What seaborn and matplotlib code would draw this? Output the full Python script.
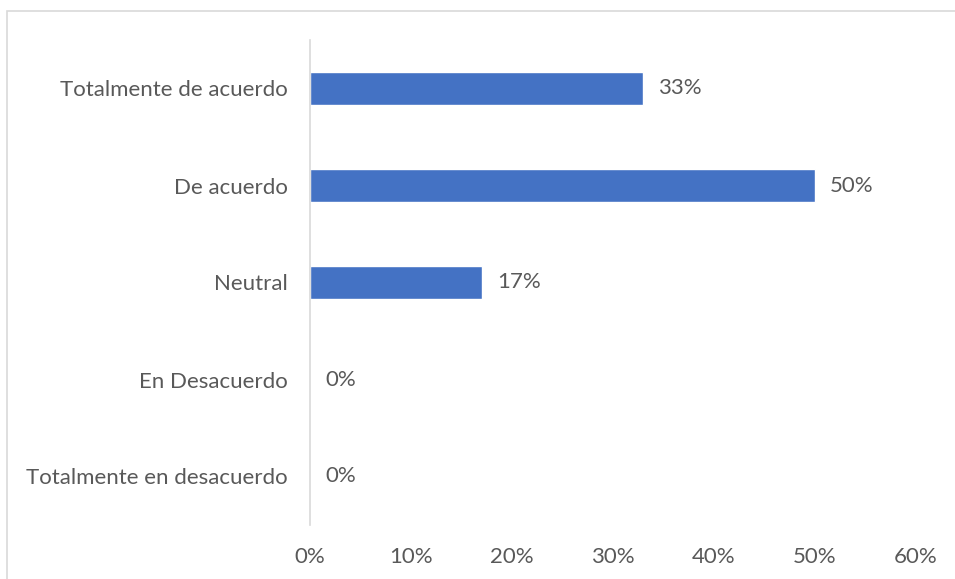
import matplotlib
matplotlib.use("Agg")
import matplotlib.pyplot as plt
from matplotlib.patches import Rectangle
from matplotlib.ticker import PercentFormatter
import seaborn as sns
import pandas as pd

categories = [
    "Totalmente de acuerdo",
    "De acuerdo",
    "Neutral",
    "En Desacuerdo",
    "Totalmente en desacuerdo",
]
shares = [0.33, 0.50, 0.17, 0.00, 0.00]
x_ticks = [0.0, 0.1, 0.2, 0.3, 0.4, 0.5, 0.6]

sns.set_theme(style="white")
plt.rcParams["font.family"] = ["Lato", "DejaVu Sans"]

text_color = "#595959"
bar_color = "#4472C4"
fs = 16

df = pd.DataFrame({"categoria": categories, "valor": shares})

W, H = 955, 579
fig = plt.figure(figsize=(W / 100, H / 100), dpi=100)
ax = fig.add_axes([310 / W, 1 - 525 / H, (916 - 310) / W, (525 - 40) / H])

sns.barplot(data=df, y="categoria", x="valor", order=categories,
            color=bar_color, saturation=1, width=0.34, ax=ax)

ax.set_xlim(0, 0.6)
ax.set_xticks(x_ticks)
ax.xaxis.set_major_formatter(PercentFormatter(1.0, decimals=0))
ax.set_xlabel("")
ax.set_ylabel("")

for s in ["top", "right", "bottom"]:
    ax.spines[s].set_visible(False)
ax.spines["left"].set_color("#d9d9d9")
ax.spines["left"].set_linewidth(1.2)

ax.tick_params(axis="x", length=0, pad=16, labelsize=fs, labelcolor=text_color)
ax.tick_params(axis="y", length=0, pad=16, labelsize=fs, labelcolor=text_color)

for i, v in enumerate(shares):
    ax.text(v + 0.015, i, f"{round(v * 100):d}%", va="center", ha="left",
            fontsize=fs, color=text_color)

# outer chart frame
fig.patches.append(Rectangle((7 / W, -0.01), 1.0, 1 - 11 / H + 0.01,
                             transform=fig.transFigure, fill=False,
                             edgecolor="#d9d9d9", linewidth=1.2))

fig.savefig("out.png", dpi=100)
